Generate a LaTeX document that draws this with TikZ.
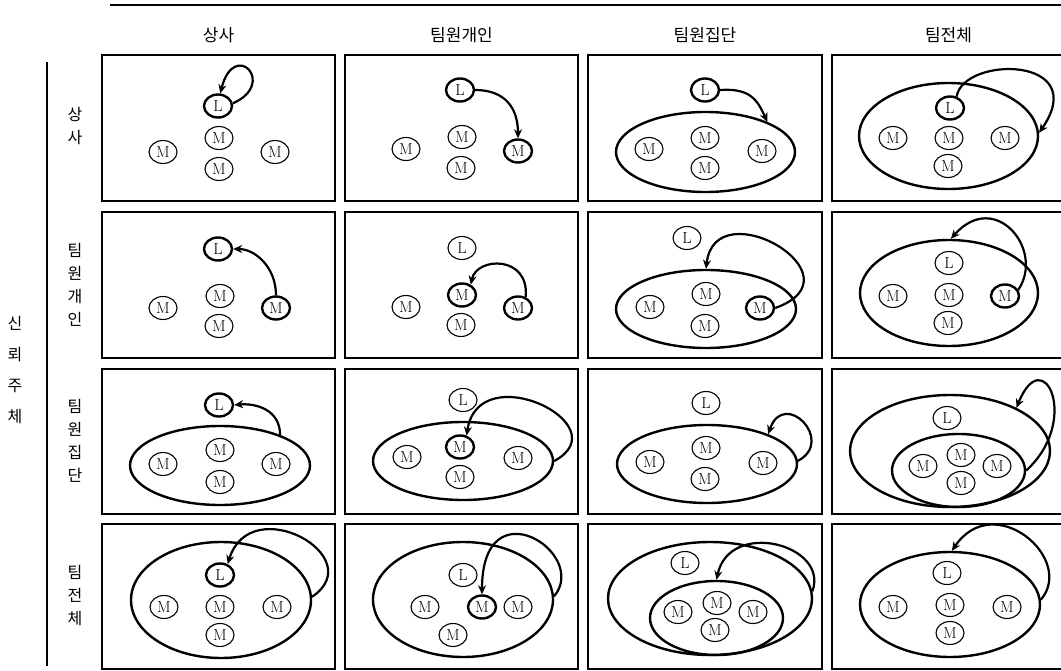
\documentclass[tikz,border=0pt]{standalone}
\usepackage{fontspec}
\newfontfamily\kr{Noto Sans CJK KR}
\usetikzlibrary{arrows.meta,shapes.geometric}
\begin{document}
\begin{tikzpicture}[x=1pt,y=-1pt,
 mem/.style={draw,ellipse,minimum width=28pt,minimum height=23pt,inner sep=0pt,line width=1.1pt,font=\fontsize{16}{16}\selectfont},
 bmem/.style={mem,line width=2.4pt},
 grp/.style={draw,ellipse,line width=2.4pt,inner sep=0pt},
 arr/.style={line width=2.2pt,-{Stealth[length=9pt,width=8pt]}},
 panelbox/.style={line width=1.8pt},
 hdr/.style={font=\kr\fontsize{17}{17}\selectfont},
 rowlbl/.style={font=\kr\fontsize{16}{23}\selectfont,align=center},
 sidelbl/.style={font=\kr\fontsize{16}{31}\selectfont,align=center}]
\clip (0,0) rectangle (1061,671);
\fill[white] (0,0) rectangle (1061,671);
% rules
\draw[line width=1.4pt] (110,5) -- (1061,5);
\draw[line width=1.1pt] (47,62) -- (47,666);
% headers
\node[hdr] (h1) at (218.5,35) {상사};
\node[hdr] (h2) at (461.5,35) {팀원개인};
\node[hdr] (h3) at (705,35) {팀원집단};
\node[hdr] (h4) at (948.5,35) {팀전체};
\node[rowlbl] (r1) at (75,126) {상\\사};
\node[rowlbl] (r2) at (75,285) {팀\\원\\개\\인};
\node[rowlbl] (r3) at (75,441) {팀\\원\\집\\단};
\node[rowlbl] (r4) at (75,596) {팀\\전\\체};
\node[sidelbl] (side) at (15,370) {신\\뢰\\주\\체};
% panels
\foreach \xa/\xb in {102/335,345/578,588/822,832/1065}{
  \foreach \ya/\yb in {55/201,212/358,369/514,524/669}{
    \draw[panelbox] (\xa,\ya) rectangle (\xb,\yb);
  }
}
% ---------- row 1
\node[bmem] (L11) at (218,106) {L};
\node[mem] (a11) at (219,138) {M};
\node[mem] (b11) at (219,169) {M};
\node[mem] (c11) at (163,152) {M};
\node[mem] (d11) at (275,152) {M};
\draw[arr] (L11.10) .. controls +(45,-20) and +(14,-55) .. (L11.80);

\node[bmem] (L12) at (460,90) {L};
\node[mem] (a12) at (462,137) {M};
\node[mem] (b12) at (461,168) {M};
\node[mem] (c12) at (406,149) {M};
\node[bmem] (d12) at (518,151) {M};
\draw[arr] (L12.east) .. controls +(30,0) and +(0,-30) .. (d12.north);

\node[grp,minimum width=179pt,minimum height=80pt] (G13) at (705.5,152) {};
\node[bmem] (L13) at (705,90) {L};
\node[mem] (a13) at (705,138) {M};
\node[mem] (b13) at (705,168) {M};
\node[mem] (c13) at (649,149) {M};
\node[mem] (d13) at (762,151) {M};
\draw[arr] (L13.east) .. controls +(30,-2) and +(-10,-22) .. (G13.26);

\node[grp,minimum width=179pt,minimum height=106pt] (G14) at (948.5,136) {};
\node[bmem] (L14) at (950,108) {L};
\node[mem] (a14) at (949,138) {M};
\node[mem] (b14) at (948,166) {M};
\node[mem] (c14) at (893,138) {M};
\node[mem] (d14) at (1005,138) {M};
\draw[arr] (L14.60) .. controls +(7,-41) and +(53,-77) .. (G14.2);
% ---------- row 2
\node[bmem] (L21) at (218,249) {L};
\node[mem] (a21) at (220,296) {M};
\node[mem] (b21) at (219,326) {M};
\node[mem] (c21) at (163,308) {M};
\node[bmem] (d21) at (276,308) {M};
\draw[arr] (d21.north) .. controls +(0,-28) and +(22,0) .. (L21.east);

\node[mem] (L22) at (462,248) {L};
\node[bmem] (a22) at (462,295) {M};
\node[mem] (b22) at (461,325) {M};
\node[mem] (c22) at (406,307) {M};
\node[bmem] (d22) at (518,308) {M};
\draw[arr] (d22.55) .. controls +(4,-42) and +(6,-28) .. (a22.50);

\node[grp,minimum width=180pt,minimum height=78pt] (G23) at (706,309) {};
\node[mem] (L23) at (687,238) {L};
\node[mem] (a23) at (706,294) {M};
\node[mem] (b23) at (705,326) {M};
\node[mem] (c23) at (650,307) {M};
\node[bmem] (d23) at (760,308) {M};
\draw[arr] (d23.east) .. controls +(90,-32) and +(9,-80) .. (G23.north);

\node[grp,minimum width=178pt,minimum height=106pt] (G24) at (949,293) {};
\node[mem] (L24) at (949,263) {L};
\node[mem] (a24) at (949,295) {M};
\node[mem] (b24) at (948,323) {M};
\node[mem] (c24) at (893,296) {M};
\node[bmem] (d24) at (1005,296) {M};
\draw[arr] (d24.25) .. controls +(27,-40) and +(44,-50) .. (G24.88);
% ---------- row 3
\node[grp,minimum width=180pt,minimum height=79pt] (G31) at (220,465.5) {};
\node[bmem] (L31) at (219,405) {L};
\node[mem] (a31) at (220,450) {M};
\node[mem] (b31) at (220,482) {M};
\node[mem] (c31) at (163,464) {M};
\node[mem] (d31) at (276,464) {M};
\draw[arr] (G31.27) .. controls +(0,-25) and +(22,-2) .. (L31.east);

\node[grp,minimum width=180pt,minimum height=78pt] (G32) at (463,461) {};
\node[mem] (L32) at (463,400) {L};
\node[bmem] (a32) at (460,447) {M};
\node[mem] (b32) at (460,477) {M};
\node[mem] (c32) at (407,457) {M};
\node[mem] (d32) at (518,458) {M};
\draw[arr] (G32.east) .. controls +(67,-36) and +(12,-80) .. (a32.60);

\node[grp,minimum width=180pt,minimum height=78pt] (G33) at (707,464) {};
\node[mem] (L33) at (706,403) {L};
\node[mem] (a33) at (706,448) {M};
\node[mem] (b33) at (705,479) {M};
\node[mem] (c33) at (650,462) {M};
\node[mem] (d33) at (763,463) {M};
\draw[arr] (G33.2) .. controls +(38,-20) and +(16,-46) .. (G33.26);

\node[grp,minimum width=200pt,minimum height=112pt] (G34o) at (950,451) {};
\node[grp,minimum width=133pt,minimum height=73pt] (G34i) at (958.5,470.5) {};
\node[mem] (L34) at (947,418) {L};
\node[mem] (a34) at (961,455) {M};
\node[mem] (b34) at (961,483) {M};
\node[mem] (c34) at (923,466) {M};
\node[mem] (d34) at (997,466) {M};
\draw[arr] (G34i.east) .. controls +(55,-50) and +(27,-67) .. (G34o.33);
% ---------- row 4
\node[grp,minimum width=180pt,minimum height=116pt] (G41) at (221,600) {};
\node[bmem] (L41) at (220,575) {L};
\node[mem] (a41) at (220,607) {M};
\node[mem] (b41) at (220,635) {M};
\node[mem] (c41) at (164,607) {M};
\node[mem] (d41) at (277,607) {M};
\draw[arr] (G41.2) .. controls +(59,-40) and +(23,-74) .. (L41.55);

\node[grp,minimum width=180pt,minimum height=115pt] (G42) at (463,599.5) {};
\node[mem] (L42) at (463,575) {L};
\node[bmem] (a42) at (482,607) {M};
\node[mem] (b42) at (453,635) {M};
\node[mem] (c42) at (425,607) {M};
\node[mem] (d42) at (518,607) {M};
\draw[arr] (G42.2) .. controls +(36,-43) and +(0,-110) .. (a42.north);

\node[grp,minimum width=204pt,minimum height=113pt] (G43o) at (710,598.5) {};
\node[grp,minimum width=133pt,minimum height=74pt] (G43i) at (716.5,618) {};
\node[mem] (L43) at (685,563) {L};
\node[mem] (a43) at (717,603) {M};
\node[mem] (b43) at (715,630) {M};
\node[mem] (c43) at (678,612) {M};
\node[mem] (d43) at (753,612) {M};
\draw[arr] (G43o.4) .. controls +(17,-47) and +(13,-61) .. (G43i.north);

\node[grp,minimum width=180pt,minimum height=105pt] (G44) at (950,604.5) {};
\node[mem] (L44) at (947,573) {L};
\node[mem] (a44) at (950,605) {M};
\node[mem] (b44) at (950,633) {M};
\node[mem] (c44) at (893,607) {M};
\node[mem] (d44) at (1007,607) {M};
\draw[arr] (G44.3) .. controls +(35,-41) and +(42,-62) .. (G44.88);
\end{tikzpicture}
\end{document}
